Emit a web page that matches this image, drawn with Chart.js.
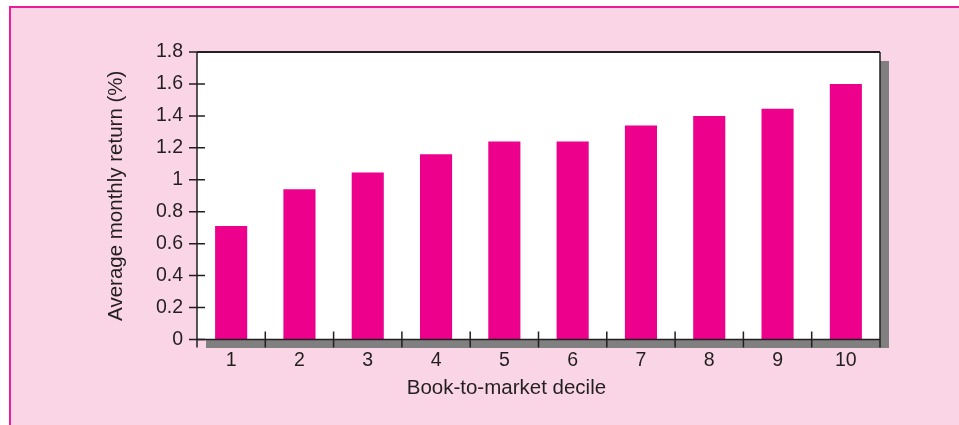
<!DOCTYPE html>
<html>
<head>
<meta charset="utf-8">
<script src="https://cdn.jsdelivr.net/npm/chart.js@4/dist/chart.umd.min.js"></script>
<style>
  html, body { margin: 0; padding: 0; background: #ffffff; }
  #wrap { width: 959px; height: 425px; position: relative; }
</style>
</head>
<body>
<div id="wrap"><canvas id="c" width="959" height="425"></canvas></div>
<script>
const deciles = ['1', '2', '3', '4', '5', '6', '7', '8', '9', '10'];
const avgMonthlyReturn = [0.71, 0.94, 1.045, 1.16, 1.24, 1.24, 1.34, 1.40, 1.445, 1.60];
const yMin = 0;
const yMax = 1.8;
const yStep = 0.2;
const xTitle = 'Book-to-market decile';
const yTitle = 'Average monthly return (%)';

const PINK_BG = '#f9d5e5';
const MAGENTA_LINE = '#ec1c9a';
const BAR = '#ec008c';
const INK = '#231f20';
const SHADOW = '#808080';
const FONT = "'Liberation Sans', Arial, Helvetica, sans-serif";

const framePlugin = {
  id: 'frame',
  beforeDraw(chart) {
    const ctx = chart.ctx;
    const a = chart.chartArea;
    ctx.save();
    ctx.fillStyle = '#ffffff';
    ctx.fillRect(0, 0, chart.width, chart.height);
    ctx.fillStyle = PINK_BG;
    ctx.fillRect(10, 7, chart.width - 10, chart.height - 7);
    ctx.strokeStyle = MAGENTA_LINE;
    ctx.lineWidth = 2;
    ctx.beginPath();
    ctx.moveTo(10, chart.height);
    ctx.lineTo(10, 7);
    ctx.lineTo(chart.width, 7);
    ctx.stroke();
    // drop shadow
    ctx.fillStyle = SHADOW;
    ctx.fillRect(a.left + 9, a.top + 9, a.right - a.left, a.bottom - a.top - 0.5);
    // plot area
    ctx.fillStyle = '#ffffff';
    ctx.fillRect(a.left, a.top, a.right - a.left, a.bottom - a.top);
    ctx.restore();
  },
  afterDraw(chart) {
    const ctx = chart.ctx;
    const a = chart.chartArea;
    const xs = chart.scales.x;
    const ys = chart.scales.y;
    ctx.save();
    ctx.strokeStyle = INK;
    ctx.lineWidth = 1.5;
    ctx.beginPath();
    ctx.moveTo(a.left, a.top);
    ctx.lineTo(a.left, a.bottom + 8);
    ctx.moveTo(a.right, a.top);
    ctx.lineTo(a.right, a.bottom + 8);
    ctx.moveTo(a.left, a.bottom);
    ctx.lineTo(a.right, a.bottom);
    ctx.stroke();
    ctx.lineWidth = 2;
    ctx.beginPath();
    ctx.moveTo(a.left, a.top);
    ctx.lineTo(a.right, a.top);
    ctx.stroke();
    ctx.lineWidth = 1.5;
    ctx.beginPath();
    ys.ticks.forEach(t => {
      const y = ys.getPixelForValue(t.value);
      ctx.moveTo(a.left - 8, y);
      ctx.lineTo(a.left + 8, y);
    });
    for (let i = 0; i < deciles.length - 1; i++) {
      const x = (xs.getPixelForValue(i) + xs.getPixelForValue(i + 1)) / 2;
      ctx.moveTo(x, a.bottom - 8);
      ctx.lineTo(x, a.bottom + 8);
    }
    ctx.stroke();
    // x-axis title (sits left of the plot centre in the original)
    ctx.fillStyle = INK;
    ctx.font = '20.5px ' + FONT;
    ctx.textAlign = 'center';
    ctx.textBaseline = 'middle';
    ctx.fillText(xTitle, a.left + (a.right - a.left) * 0.453, 388);
    ctx.restore();
  }
};

new Chart(document.getElementById('c'), {
  type: 'bar',
  data: {
    labels: deciles,
    datasets: [{
      data: avgMonthlyReturn,
      backgroundColor: BAR,
      borderWidth: 0,
      barPercentage: 0.47,
      categoryPercentage: 1.0
    }]
  },
  options: {
    responsive: false,
    animation: false,
    events: [],
    layout: { padding: { left: 100, top: 52, right: 79, bottom: 21 } },
    plugins: { legend: { display: false }, tooltip: { enabled: false }, title: { display: false } },
    scales: {
      x: {
        grid: { display: false, drawTicks: false },
        border: { display: false },
        ticks: { color: INK, font: { family: FONT, size: 19.5 }, padding: 9, maxRotation: 0 },
        afterFit(s) { s.height = 64.5; }
      },
      y: {
        min: yMin,
        max: yMax,
        grid: { display: false, drawTicks: false },
        border: { display: false },
        ticks: {
          stepSize: yStep,
          color: INK,
          font: { family: FONT, size: 19.5 },
          padding: 14,
          callback: v => String(Number(v.toFixed(1)))
        },
        title: { display: true, text: yTitle, color: INK, font: { family: FONT, size: 20.5 }, padding: { top: 4, bottom: 4 } },
        afterFit(s) { s.width = 97; }
      }
    }
  },
  plugins: [framePlugin]
});
</script>
</body>
</html>
